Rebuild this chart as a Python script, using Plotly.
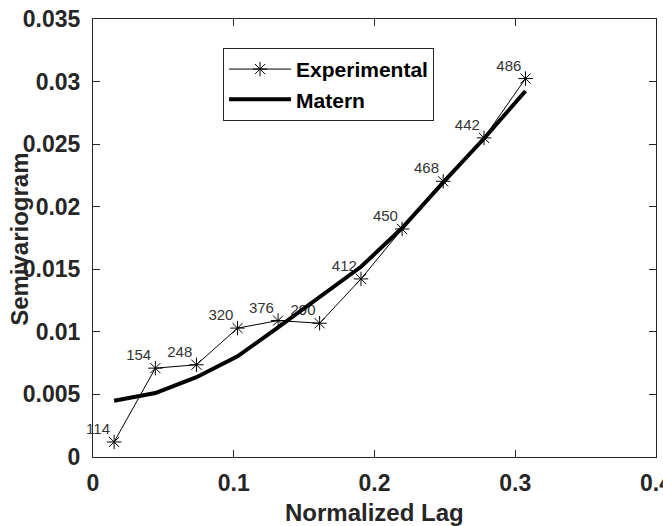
import plotly.graph_objects as go

# ---- data ----
lag = [0.0150, 0.0443, 0.0735, 0.1027, 0.1315, 0.1610, 0.1904, 0.2196, 0.2488, 0.2778, 0.3073]
experimental = [0.00120, 0.00710, 0.00737, 0.01030, 0.01090, 0.01069, 0.01423, 0.01822, 0.02203, 0.02550, 0.03024]
matern = [0.00449, 0.00511, 0.00638, 0.00805, 0.01035, 0.01280, 0.01520, 0.01830, 0.02195, 0.02545, 0.02925]
pair_counts = ["114", "154", "248", "320", "376", "290", "412", "450", "468", "442", "486"]

x_ticks = [0, 0.1, 0.2, 0.3, 0.4]
x_tick_text = ["0", "0.1", "0.2", "0.3", "0.4"]
y_ticks = [0, 0.005, 0.01, 0.015, 0.02, 0.025, 0.03, 0.035]
y_tick_text = ["0", "0.005", "0.01", "0.015", "0.02", "0.025", "0.03", "0.035"]

AX = "#262626"
FONT = "Arial, 'Liberation Sans', Helvetica, sans-serif"

fig = go.Figure()

# labels (drawn first so the curves pass over them)
fig.add_trace(go.Scatter(
    x=lag, y=experimental, mode="markers+text", text=pair_counts,
    textposition="top left", cliponaxis=False,
    textfont=dict(family=FONT, size=15, color="#333333"),
    marker=dict(size=5, color="rgba(0,0,0,0)"),
    showlegend=False, hoverinfo="skip",
))

fig.add_trace(go.Scatter(
    x=lag, y=experimental, mode="lines+markers", name="Experimental",
    line=dict(color="black", width=1),
    marker=dict(symbol="asterisk-open", size=12, color="black",
                line=dict(color="black", width=1)),
))

fig.add_trace(go.Scatter(
    x=lag, y=matern, mode="lines", name="Matern",
    line=dict(color="black", width=4),
))

axis_common = dict(
    showgrid=False, zeroline=False, showline=True, mirror="allticks",
    linecolor=AX, linewidth=1, ticks="inside", ticklen=7, tickwidth=1,
    tickcolor=AX, tickfont=dict(family=FONT, size=23, color=AX, weight="bold"),
    automargin=False, ticklabeloverflow="allow",
)

fig.update_layout(
    width=663, height=526, autosize=False,
    margin=dict(l=93, r=7, t=19, b=69),
    paper_bgcolor="white", plot_bgcolor="white",
    xaxis=dict(range=[0, 0.4], tickvals=x_ticks, ticktext=x_tick_text,
               ticklabelstandoff=5, **axis_common),
    yaxis=dict(range=[0, 0.035], tickvals=y_ticks, ticktext=y_tick_text,
               ticklabelstandoff=7, **axis_common),
    legend=dict(
        x=0.231, y=0.934, xanchor="left", yanchor="top",
        bgcolor="white", bordercolor=AX, borderwidth=1,
        font=dict(family=FONT, size=21, color="black", weight="bold"),
        itemwidth=62, tracegroupgap=0,
    ),
    showlegend=True,
    annotations=[
        dict(text="Normalized Lag", xref="paper", yref="paper", x=0.5, y=-0.1256,
             xanchor="center", yanchor="middle", showarrow=False,
             font=dict(family=FONT, size=24, color=AX, weight="bold")),
        dict(text="Semivariogram", xref="paper", yref="paper", x=-0.1297, y=0.498,
             xanchor="center", yanchor="middle", showarrow=False, textangle=-90,
             font=dict(family=FONT, size=24, color=AX, weight="bold")),
    ],
)

fig.write_html("out.html", config={"displayModeBar": False},
               post_script="document.body.style.margin='0';")
